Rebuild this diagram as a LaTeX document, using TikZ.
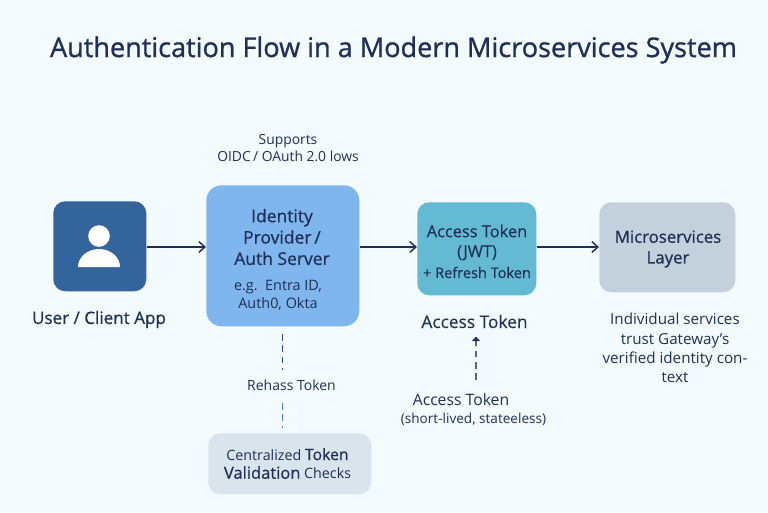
\documentclass[tikz,border=0pt]{standalone}
\usepackage{fontspec}
\setmainfont{Open Sans}
\newfontfamily\titlefont[FakeBold=1.0]{Open Sans}
\newfontfamily\medfont[FakeBold=0.7]{Open Sans}
\newfontfamily\lightmed[FakeBold=0.25]{Open Sans}
\usetikzlibrary{arrows.meta}
\definecolor{ink}{HTML}{1F2F57}
\definecolor{bgc}{HTML}{F4FBFE}
\definecolor{userc}{HTML}{34649C}
\definecolor{idpc}{HTML}{7FB6EE}
\definecolor{tokc}{HTML}{63BAD2}
\definecolor{micc}{HTML}{C5D0DD}
\definecolor{valc}{HTML}{DAE4ED}
\definecolor{dashb}{HTML}{2F4A8C}
\definecolor{dashl}{HTML}{4A80CC}
\definecolor{dashg}{HTML}{55648A}
\tikzset{
  box/.style={rounded corners=11.5pt,inner sep=0pt,anchor=north west},
  lbl/.style={text=ink,align=center,inner sep=0pt,anchor=center},
  flow/.style={draw=ink,line width=1.2pt,-{Straight Barb[length=4.5pt,width=8pt,line width=1.1pt]}},
  dashline/.style={line width=1.1pt,dash pattern=on 5pt off 3.5pt},
}
\begin{document}
\begin{tikzpicture}[x=0.75pt,y=-0.75pt]
\useasboundingbox (0,0) rectangle (768,512);
\fill[bgc] (0,0) rectangle (768,512);
\node[lbl,font=\titlefont\fontsize{20.3}{24}\selectfont] (title) at (393.5,50) {Authentication Flow in a Modern Microservices System};
\node[lbl,font=\fontsize{10.4}{13.2}\selectfont] (supports) at (288,148) {Supports\\OIDC\,/ OAuth 2.0 lows};
% boxes
\node[box,fill=userc,minimum width=69.75pt,minimum height=67.5pt,rounded corners=9pt] (user) at (53,201) {};
\node[box,fill=idpc,minimum width=114.75pt,minimum height=105.75pt] (idp) at (206,185) {};
\node[box,fill=tokc,minimum width=89.25pt,minimum height=69.75pt,rounded corners=9pt] (tok) at (417,202) {};
\node[box,fill=micc,minimum width=102pt,minimum height=67.5pt,rounded corners=9pt] (mic) at (599,202) {};
\node[box,fill=valc,minimum width=122.25pt,minimum height=45.75pt,rounded corners=9pt] (val) at (208,433) {};
% person icon
\fill[white] (99,236) circle[radius=10.8];
\fill[white] (78,267) arc[start angle=180,end angle=360,x radius=21,y radius=18] -- cycle;
% box text
\node[lbl,font=\medfont\fontsize{13.1}{16}\selectfont] (idpt) at (282,237) {Identity\\Provider\,/\\Auth Server};
\node[lbl,font=\fontsize{10.8}{13.5}\selectfont] (idps) at (278,295) {e.g.\ \ Entra ID,\\Auth0, Okta};
\node[lbl,font=\lightmed\fontsize{12.3}{15}\selectfont] (tokt) at (477,242.5) {Access Token\\(JWT)};
\node[lbl,font=\lightmed\fontsize{10.9}{12}\selectfont] (tokr) at (477,272.5) {+ Refresh Token};
\node[lbl,font=\medfont\fontsize{12.6}{15.5}\selectfont] (mict) at (668,249) {Microservices\\Layer};
\node[lbl,font=\fontsize{10.7}{14}\selectfont] (valt) at (287.5,463.5) {Centralized {\medfont\fontsize{11.8}{14}\selectfont Token}\\{\medfont\fontsize{12.4}{14}\selectfont Validation} Checks};
% outside labels
\node[lbl,font=\medfont\fontsize{12.8}{14}\selectfont] (usert) at (99,319.5) {User / Client App};
\node[lbl,font=\lightmed\fontsize{13}{14}\selectfont] (acc) at (474.5,321.5) {Access Token};
\node[lbl,font=\fontsize{11.4}{14.4}\selectfont] (indiv) at (675,348) {Individual services\\trust Gateway’s\\verified identity con-\\text};
\node[lbl,font=\fontsize{10.5}{12}\selectfont] (reh) at (291.5,385) {Rehass Token};
\node[lbl,font=\fontsize{11.8}{12}\selectfont] (acc2) at (461,400) {Access Token};
\node[lbl,font=\fontsize{10.2}{12}\selectfont] (short) at (473.5,419) {(short-lived, stateeless)};
% connectors
\coordinate (u1) at (user.east |- 0,247);
\draw[flow] (u1) -- (idp.west |- u1);
\draw[flow] (idp.east |- u1) -- (tok.west |- u1);
\draw[flow] (tok.east |- u1) -- (mic.west |- u1);
\coordinate (d1) at (282.5,334);
\coordinate (d2) at (282.5,370);
\coordinate (d3) at (282.5,403);
\coordinate (d4) at (282.5,428);
\draw[dashline,draw=dashb] (d1) -- (d2);
\draw[dashline,draw=dashl] (d3) -- (d4);
\coordinate (a1) at (476,380);
\draw[dashline,draw=dashg,line width=1.2pt,shorten >=6pt,-{Latex[length=3.5pt,width=7pt,color=ink]}] (a1) -- (acc.south -| a1);
\end{tikzpicture}
\end{document}
